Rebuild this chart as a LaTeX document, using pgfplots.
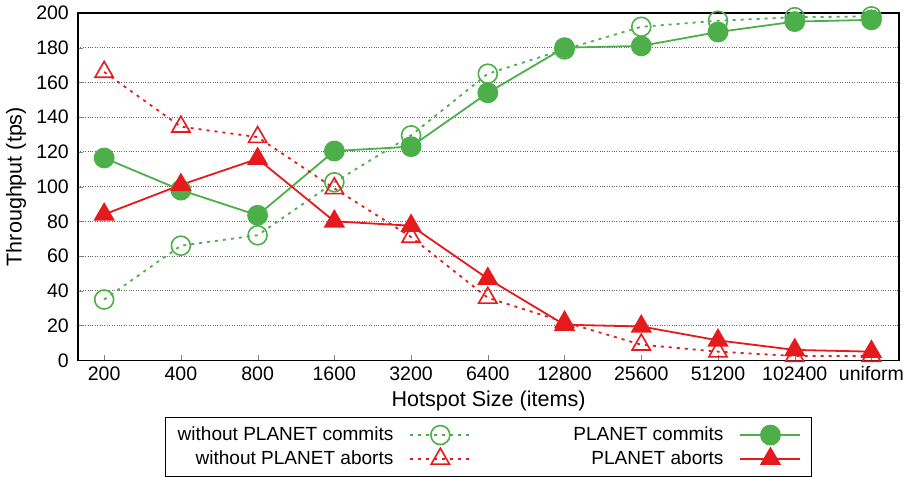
\documentclass[border=0pt]{standalone}
\usepackage{fontspec}
\setmainfont{Liberation Sans}
\usepackage{pgfplots}
\pgfplotsset{compat=1.18}
\definecolor{cg}{RGB}{77,175,74}
\definecolor{cr}{RGB}{228,26,28}
\begin{document}
\fontsize{18}{21}\selectfont
\begin{tikzpicture}
\begin{axis}[
  scale only axis,
  width=820pt, height=347pt,
  xmin=-0.34, xmax=10.36,
  ymin=0, ymax=200,
  ytick={0,20,...,200},
  xtick={0,...,10},
  xticklabels={200,400,800,1600,3200,6400,12800,25600,51200,102400,uniform},
  tick pos=left,
  tick align=inside,
  major tick length=5pt,
  /pgf/number format/assume math mode=true,
  ticklabel style={font=\fontsize{19.5}{22}\selectfont},
  yticklabel style={xshift=-3pt},
  ymajorgrids,
  grid style={black!60, dotted, line width=0.8pt},
  axis line style={line width=1.2pt},
  xlabel={Hotspot Size (items)},
  ylabel={Throughput (tps)},
  label style={font=\fontsize{21.5}{24}\selectfont},
  xlabel style={yshift=2pt},
  ylabel style={yshift=-2pt},
  legend columns=2,
  legend plot pos=right,
  legend cell align=right,
  legend style={at={(0.5,-0.164)}, anchor=north, draw=black, line width=1pt,
    font=\fontsize{19}{22}\selectfont, inner xsep=10pt, inner ysep=7pt,
    /tikz/every even column/.append style={column sep=100pt},
    /tikz/every odd column/.append style={column sep=14pt},
    row sep=3pt},
  legend image code/.code={\draw[mark repeat=2,mark phase=2,#1] plot coordinates {(0pt,0pt)(30pt,0pt)(60pt,0pt)};},
]
\addplot[cg, line width=1.8pt, dash pattern=on 3pt off 5pt, mark=o, mark size=9.5pt, mark options={solid, line width=1.6pt}]
 coordinates {(0,35)(1,66)(2,72)(3,102.5)(4,129.5)(5,165)(6,179)(7,192)(8,195.5)(9,197.5)(10,198)};
\addlegendentry{without PLANET commits}
\addplot[cg, line width=1.8pt, mark=*, mark size=9.5pt, mark options={solid}]
 coordinates {(0,116.5)(1,98)(2,83.5)(3,120.5)(4,123)(5,154)(6,180)(7,181)(8,189)(9,195)(10,196)};
\addlegendentry{PLANET commits}
\addplot[cr, line width=1.8pt, dash pattern=on 3pt off 5pt, mark=triangle, mark size=10.5pt, mark options={solid, line width=1.6pt}]
 coordinates {(0,166)(1,134.5)(2,128.5)(3,99)(4,71)(5,36)(6,22)(7,9)(8,5)(9,2.5)(10,2.5)};
\addlegendentry{without PLANET aborts}
\addplot[cr, line width=1.8pt, mark=triangle*, mark size=10.5pt, mark options={solid}]
 coordinates {(0,84)(1,101)(2,116)(3,80)(4,77.5)(5,47)(6,20.5)(7,19.5)(8,11.5)(9,6)(10,5)};
\addlegendentry{PLANET aborts}
\end{axis}
\end{tikzpicture}
\end{document}
